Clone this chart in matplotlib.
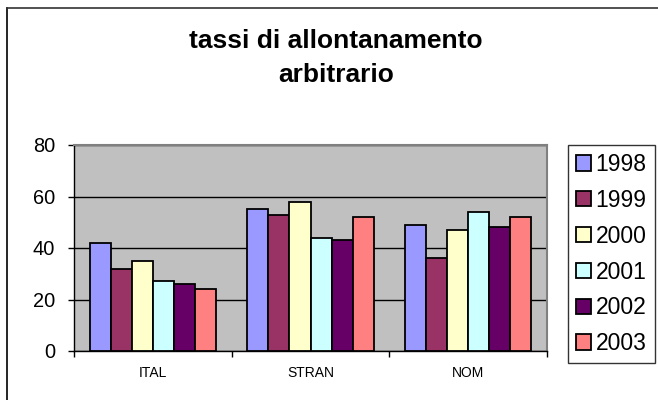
import matplotlib.pyplot as plt
from matplotlib.lines import Line2D
import numpy as np

categories = ['ITAL', 'STRAN', 'NOM']
years = ['1998', '1999', '2000', '2001', '2002', '2003']
values = {
    '1998': [42, 55, 49],
    '1999': [32, 53, 36],
    '2000': [35, 58, 47],
    '2001': [27, 44, 54],
    '2002': [26, 43, 48],
    '2003': [24, 52, 52],
}
colors = ['#9999FF', '#993366', '#FFFFCC', '#CCFFFF', '#660066', '#FF8080']

plt.rcParams['font.family'] = ['Liberation Sans', 'DejaVu Sans']

W, H = 658, 400
fig = plt.figure(figsize=(W / 100, H / 100), dpi=100)
fig.patch.set_facecolor('white')

# chart border (image is cropped on the right and bottom)
fig.add_artist(Line2D([7 / W, 7 / W], [0, 1 - 8 / H], transform=fig.transFigure,
                      color='black', linewidth=1.2))
fig.add_artist(Line2D([7 / W, 1], [1 - 8 / H, 1 - 8 / H], transform=fig.transFigure,
                      color='#333333', linewidth=1.2))

ax = fig.add_axes([74 / W, 1 - 351 / H, (547 - 74) / W, (351 - 145) / H])
ax.set_facecolor('#C0C0C0')

x = np.arange(len(categories))
n = len(years)
group = 0.8
bw = group / n
for i, (yr, c) in enumerate(zip(years, colors)):
    offs = -group / 2 + bw * (i + 0.5)
    ax.bar(x + offs, values[yr], width=bw, color=c, edgecolor='black',
           linewidth=1.3, label=yr, zorder=3)

ax.set_xlim(-0.5, len(categories) - 0.5)
ax.set_ylim(0, 80)
ax.set_yticks([0, 20, 40, 60, 80])
ax.yaxis.grid(True, color='black', linewidth=1, zorder=0)
ax.set_axisbelow(True)
ax.tick_params(axis='y', labelsize=14.4, direction='out', length=4.5, width=1, pad=9)
ax.set_xticks(x)
ax.set_xticklabels(categories, fontsize=10)
ax.set_xticks(np.arange(len(categories) + 1) - 0.5, minor=True)
ax.tick_params(axis='x', which='major', length=0, pad=11)
ax.tick_params(axis='x', which='minor', direction='out', length=4.5, width=1)

for s in ['top', 'right']:
    ax.spines[s].set_color('#808080')
    ax.spines[s].set_linewidth(1.5)
for s in ['left', 'bottom']:
    ax.spines[s].set_color('black')
    ax.spines[s].set_linewidth(1)

fig.text(336 / W, 1 - 48 / H, 'tassi di allontanamento', ha='center', va='baseline',
         fontsize=19, fontweight='bold')
fig.text(336 / W, 1 - 82 / H, 'arbitrario', ha='center', va='baseline',
         fontsize=19, fontweight='bold')

leg = fig.legend(loc='upper left', bbox_to_anchor=(568 / W, 1 - 145 / H),
                 fontsize=16.5, frameon=True, fancybox=False, borderpad=0.35,
                 labelspacing=0.56, handlelength=0.65, handleheight=0.65,
                 handletextpad=0.2, borderaxespad=0)
leg.get_frame().set_edgecolor('black')
leg.get_frame().set_linewidth(1)

fig.savefig('out.png', dpi=100)
